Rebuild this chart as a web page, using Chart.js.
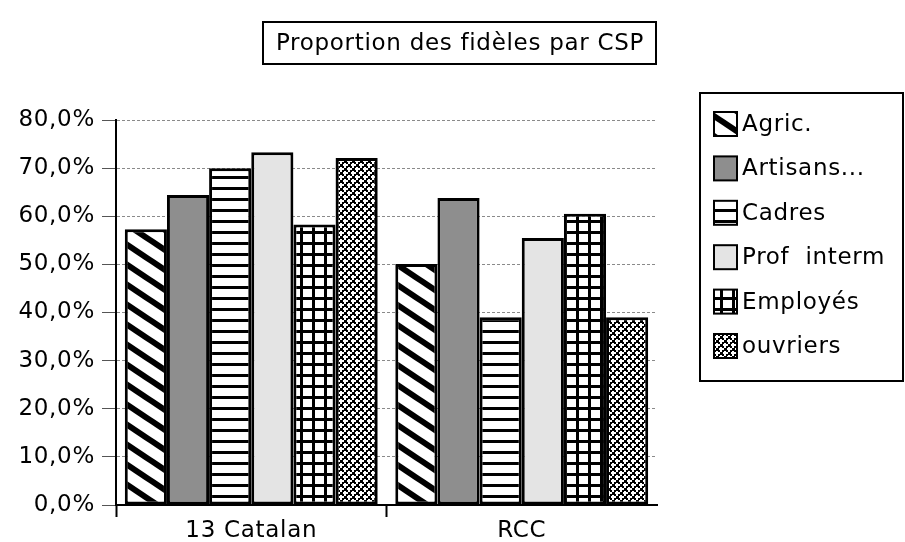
<!DOCTYPE html>
<html lang="fr">
<head>
<meta charset="utf-8">
<title>Proportion des fidèles par CSP</title>
<script src="https://cdn.jsdelivr.net/npm/chart.js@4/dist/chart.umd.min.js"></script>
<style>
  html, body { margin: 0; padding: 0; background: #fff; }
  #wrap { width: 905px; height: 542px; position: relative; }
</style>
</head>
<body>
<div id="wrap"><canvas id="chartCSP"></canvas></div>
<script>
// ═══════════════════════════════════════
// Données
// ═══════════════════════════════════════
const TITRE = 'Proportion des fidèles par CSP';
const GROUPES = ['13 Catalan', 'RCC'];
const CSP = ['Agric.', 'Artisans...', 'Cadres', 'Prof  interm', 'Employés', 'ouvriers'];

const agric     = [57.3, 50.1];
const artisans  = [64.4, 63.8];
const cadres    = [70.0, 39.0];
const profInter = [73.3, 55.5];
const employes  = [58.3, 60.5];
const ouvriers  = [72.1, 39.0];

const Y_MIN = 0, Y_MAX = 80, Y_PAS = 10;

const FONT = "'DejaVu Sans', Verdana, sans-serif";
const TAILLE = 23;
const ESPACE = '0.7px'; // police type Geneva : lettres un peu espacées

// ─── motifs (hachures façon Excel) ───
function tile(w, h, draw) {
  const c = document.createElement('canvas');
  c.width = w; c.height = h;
  const g = c.getContext('2d');
  g.fillStyle = '#fff';
  g.fillRect(0, 0, w, h);
  g.fillStyle = '#000';
  g.strokeStyle = '#000';
  draw(g, w, h);
  return document.createElement('canvas').getContext('2d').createPattern(c, 'repeat');
}

const MOTIFS = [
  // diagonales "\"
  tile(30, 20, (g, w, h) => {
    g.lineWidth = 6;
    for (let k = -1; k <= 1; k++) {
      g.beginPath();
      g.moveTo(-w, -h + k * h);
      g.lineTo(2 * w, 2 * h + k * h);
      g.stroke();
    }
  }),
  '#8e8e8e',
  // lignes horizontales
  tile(8, 11, (g, w) => { g.fillRect(0, 0, w, 3); }),
  '#e4e4e4',
  // quadrillage
  tile(12, 11, (g, w, h) => { g.fillRect(0, 0, w, 3); g.fillRect(0, 0, 3, h); }),
  // damier
  tile(8, 8, g => {
    g.fillRect(0, 0, 3, 3); g.fillRect(4, 4, 3, 3);
    g.fillRect(2, 2, 2, 2); g.fillRect(6, 6, 2, 2);
    g.fillRect(6, 2, 2, 2); g.fillRect(2, 6, 2, 2);
  })
];

const SERIES = [agric, artisans, cadres, profInter, employes, ouvriers];

// espacement des lettres pour tout le canvas
const espacement = {
  id: 'espacement',
  beforeLayout(chart) { chart.ctx.letterSpacing = ESPACE; },
  beforeDraw(chart) { chart.ctx.letterSpacing = ESPACE; }
};

// ─── titre encadré ───
const titreBox = {
  id: 'titreBox',
  afterDraw(chart) {
    const ctx = chart.ctx;
    ctx.save();
    ctx.lineWidth = 2;
    ctx.strokeStyle = '#000';
    ctx.strokeRect(263, 22, 393, 42);
    ctx.fillStyle = '#000';
    ctx.font = TAILLE + 'px ' + FONT;
    ctx.textAlign = 'center';
    ctx.textBaseline = 'middle';
    ctx.fillText(TITRE, 460, 44);
    ctx.restore();
  }
};

// ─── légende encadrée à droite ───
const legendeBox = {
  id: 'legendeBox',
  afterDraw(chart) {
    const ctx = chart.ctx;
    ctx.save();
    ctx.lineWidth = 2;
    ctx.strokeStyle = '#000';
    ctx.strokeRect(700, 93, 203, 288);
    ctx.font = TAILLE + 'px ' + FONT;
    ctx.textBaseline = 'middle';
    chart.data.datasets.forEach((ds, i) => {
      const cy = 124 + i * 44.4;
      ctx.fillStyle = ds.backgroundColor;
      ctx.fillRect(714, cy - 12, 23, 24);
      ctx.strokeRect(714, cy - 12, 23, 24);
      ctx.fillStyle = '#000';
      ctx.fillText(ds.label, 742, cy + 1);
    });
    ctx.restore();
  }
};

const ctx = document.getElementById('chartCSP').getContext('2d');
new Chart(ctx, {
  type: 'bar',
  data: {
    labels: GROUPES,
    datasets: CSP.map((nom, i) => ({
      label: nom,
      data: SERIES[i],
      backgroundColor: MOTIFS[i],
      borderColor: '#000',
      borderWidth: 3,
      borderSkipped: false,
      barPercentage: 1,
      categoryPercentage: 0.935
    }))
  },
  options: {
    responsive: true,
    maintainAspectRatio: false,
    animation: false,
    layout: { padding: { top: 120, right: 248, bottom: 0, left: 0 } },
    plugins: { legend: { display: false }, tooltip: { enabled: false } },
    scales: {
      x: {
        offset: true,
        afterFit: s => { s.height = 37; },
        border: { display: true, color: '#000', width: 2 },
        grid: {
          offset: true,
          drawOnChartArea: false,
          tickLength: 12,
          tickWidth: 2,
          tickColor: c => (c.tick ? '#000' : 'rgba(0,0,0,0)')
        },
        ticks: { color: '#000', font: { family: FONT, size: TAILLE }, padding: 0 }
      },
      y: {
        min: Y_MIN,
        max: Y_MAX,
        afterFit: s => { s.width = 116; },
        border: { display: true, color: '#000', width: 2, dash: [3, 2] },
        grid: {
          color: '#8a8a8a',
          lineWidth: 1,
          tickLength: 14,
          tickColor: '#555',
          tickWidth: 1
        },
        ticks: {
          stepSize: Y_PAS,
          color: '#000',
          padding: 7,
          font: { family: FONT, size: TAILLE },
          callback: v => v.toFixed(1).replace('.', ',') + '%'
        }
      }
    }
  },
  plugins: [espacement, titreBox, legendeBox]
});
</script>
</body>
</html>
